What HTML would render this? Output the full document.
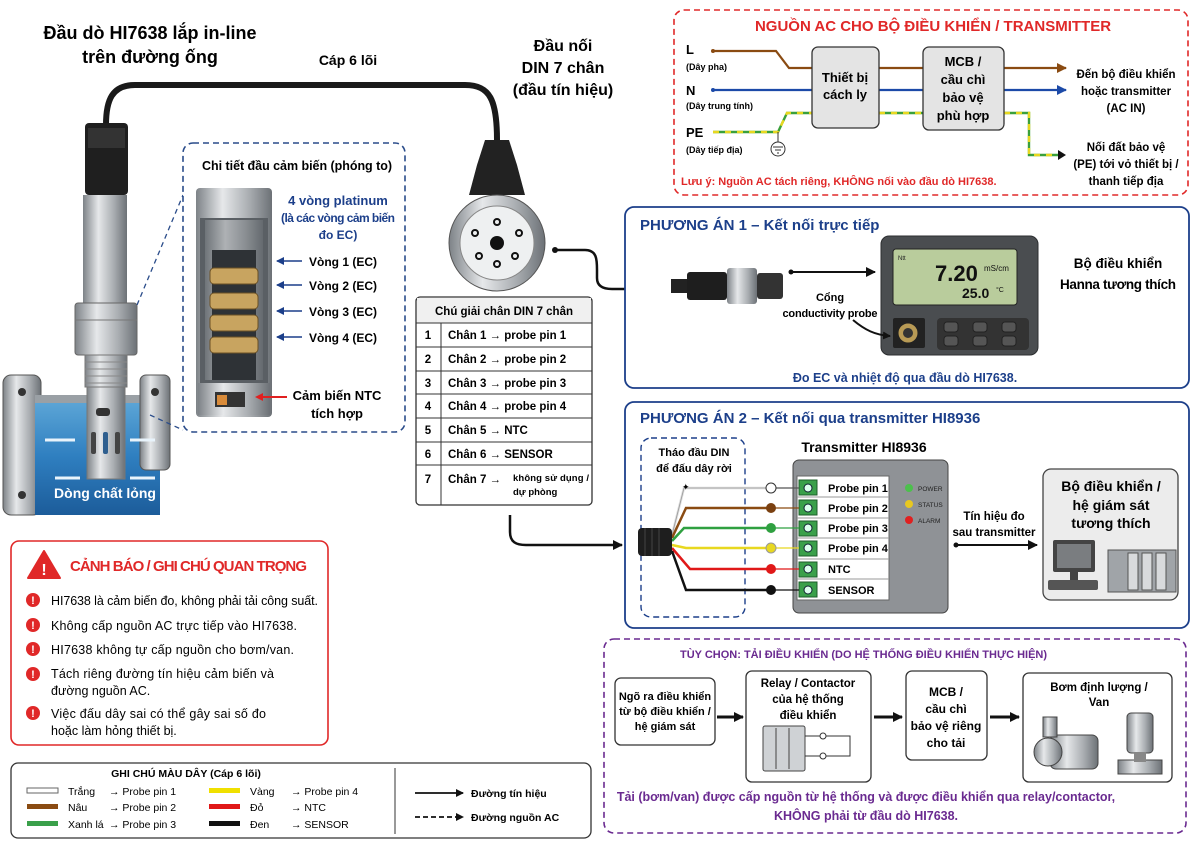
<!DOCTYPE html>
<html><head><meta charset="utf-8"><style>
html,body{margin:0;padding:0;background:#fff}
svg{display:block}
text{font-family:"Liberation Sans","DejaVu Sans",sans-serif}
.b{font-weight:bold}
</style></head><body>
<svg width="1200" height="849" viewBox="0 0 1200 849" xmlns="http://www.w3.org/2000/svg">
<defs>
<marker id="ah" markerWidth="8" markerHeight="8" refX="7" refY="4" orient="auto" markerUnits="userSpaceOnUse"><path d="M0,0 L8,4 L0,8 z" fill="#111"/></marker>
<marker id="ahb" markerWidth="10" markerHeight="10" refX="9" refY="5" orient="auto" markerUnits="userSpaceOnUse"><path d="M0,0 L10,5 L0,10 z" fill="#111"/></marker>
<marker id="abr" markerWidth="10" markerHeight="10" refX="9" refY="5" orient="auto" markerUnits="userSpaceOnUse"><path d="M0,0 L10,5 L0,10 z" fill="#8a4b12"/></marker>
<marker id="abl" markerWidth="10" markerHeight="10" refX="9" refY="5" orient="auto" markerUnits="userSpaceOnUse"><path d="M0,0 L10,5 L0,10 z" fill="#1c4aa8"/></marker>
<marker id="ablu" markerWidth="8" markerHeight="8" refX="1" refY="4" orient="auto" markerUnits="userSpaceOnUse"><path d="M8,0 L0,4 L8,8 z" fill="#1c3f8a"/></marker>
<linearGradient id="steel" x1="0" x2="1"><stop offset="0" stop-color="#7d8287"/><stop offset="0.35" stop-color="#e6e8ea"/><stop offset="0.7" stop-color="#a9adb1"/><stop offset="1" stop-color="#6c7176"/></linearGradient>
<linearGradient id="water" x1="0" x2="0" y1="0" y2="1"><stop offset="0" stop-color="#5fa8d8"/><stop offset="0.5" stop-color="#2f7fc0"/><stop offset="1" stop-color="#1c5c9a"/></linearGradient>
</defs>

<!-- Titles -->
<text x="150" y="39" font-size="18" class="b" text-anchor="middle">Đầu dò HI7638 lắp in-line</text>
<text x="150" y="63" font-size="18" class="b" text-anchor="middle">trên đường ống</text>
<text x="348" y="65" font-size="14" class="b" text-anchor="middle">Cáp 6 lõi</text>
<text x="563" y="51" font-size="16" class="b" text-anchor="middle">Đầu nối</text>
<text x="563" y="73" font-size="16" class="b" text-anchor="middle">DIN 7 chân</text>
<text x="563" y="95" font-size="16" class="b" text-anchor="middle">(đầu tín hiệu)</text>

<!-- Cable -->
<path d="M106,125 C106,100 112,85 135,85 L465,85 C490,85 497,100 497,140" fill="none" stroke="#1a1a1a" stroke-width="6"/>

<!-- Pipe -->
<rect x="3" y="375" width="38" height="140" rx="8" fill="url(#steel)" stroke="#555"/>
<rect x="35" y="398" width="125" height="117" fill="url(#water)"/>
<rect x="35" y="395" width="125" height="8" fill="#9aa0a5"/>
<rect x="140" y="375" width="30" height="95" rx="6" fill="url(#steel)" stroke="#555"/>
<circle cx="155" cy="392" r="4" fill="#333"/><circle cx="22" cy="392" r="4" fill="#333"/><circle cx="22" cy="495" r="4" fill="#333"/>
<path d="M45,440 h30 M55,478 h25 M130,440 h25 M130,478 h25" stroke="#e8f3fb" stroke-width="3"/>
<text x="105" y="498" font-size="14" class="b" fill="#fff" text-anchor="middle">Dòng chất lỏng</text>

<!-- Probe -->
<rect x="85" y="123" width="43" height="72" rx="4" fill="#1f1f1f"/>
<rect x="88" y="128" width="37" height="20" fill="#333"/>
<rect x="83" y="195" width="44" height="108" fill="url(#steel)"/>
<rect x="75" y="303" width="62" height="52" rx="3" fill="url(#steel)" stroke="#666"/>
<line x1="75" y1="320" x2="137" y2="320" stroke="#777"/>
<rect x="85" y="355" width="42" height="32" fill="url(#steel)" stroke="#777"/>
<path d="M85,362h42M85,369h42M85,376h42M85,383h42" stroke="#888"/>
<rect x="87" y="387" width="38" height="92" fill="url(#steel)" stroke="#777"/>
<rect x="96" y="408" width="14" height="8" rx="3" fill="#333"/>
<rect x="91" y="432" width="5" height="22" rx="2" fill="#444"/><rect x="103" y="432" width="5" height="22" rx="2" fill="#2f5f8f"/><rect x="115" y="432" width="5" height="22" rx="2" fill="#444"/>

<!-- Detail box -->
<path d="M137,305 L183,195 M150,415 L183,430" stroke="#2a4c8a" stroke-width="1.3" stroke-dasharray="5,4" fill="none"/>
<rect x="183" y="143" width="222" height="289" rx="10" fill="#fff" stroke="#2a4c8a" stroke-width="1.6" stroke-dasharray="6,4"/>
<text x="202" y="170" font-size="12.5" class="b" textLength="190">Chi tiết đầu cảm biến (phóng to)</text>
<rect x="196" y="188" width="76" height="229" rx="4" fill="url(#steel)"/>
<rect x="200" y="218" width="68" height="165" fill="#5a5f64"/>
<rect x="205" y="220" width="58" height="160" fill="url(#steel)" opacity="0.6"/>
<rect x="212" y="250" width="44" height="130" fill="#2e3236"/>
<g fill="#c8a460" stroke="#6b5125">
<rect x="210" y="268" width="48" height="16" rx="4"/><rect x="210" y="293" width="48" height="16" rx="4"/><rect x="210" y="315" width="48" height="16" rx="4"/><rect x="210" y="337" width="48" height="16" rx="4"/></g>
<rect x="198" y="383" width="72" height="32" fill="url(#steel)"/>
<rect x="215" y="392" width="30" height="15" fill="#333"/><rect x="217" y="395" width="10" height="10" fill="#d98b3a"/>
<text x="338" y="205" font-size="13" class="b" fill="#1c3f8a" text-anchor="middle">4 vòng platinum</text>
<text x="338" y="222" font-size="12" class="b" fill="#1c3f8a" text-anchor="middle" textLength="114">(là các vòng cảm biến</text>
<text x="338" y="239" font-size="12" class="b" fill="#1c3f8a" text-anchor="middle">đo EC)</text>
<g stroke="#1c3f8a" stroke-width="1.5" marker-start="url(#ablu)">
<line x1="277" y1="261" x2="302" y2="261"/><line x1="277" y1="285" x2="302" y2="285"/><line x1="277" y1="311" x2="302" y2="311"/><line x1="277" y1="337" x2="302" y2="337"/></g>
<g font-size="12" class="b"><text x="309" y="266">Vòng 1 (EC)</text><text x="309" y="290">Vòng 2 (EC)</text><text x="309" y="316">Vòng 3 (EC)</text><text x="309" y="342">Vòng 4 (EC)</text></g>
<line x1="258" y1="397" x2="287" y2="397" stroke="#e02020" stroke-width="2"/><path d="M255,397 l8,-4 v8z" fill="#e02020"/>
<text x="337" y="400" font-size="13" class="b" text-anchor="middle">Cảm biến NTC</text>
<text x="337" y="418" font-size="13" class="b" text-anchor="middle">tích hợp</text>

<!-- DIN connector -->
<path d="M485,140 h24 l8,25 l8,30 h-56 l8,-30z" fill="#222"/>
<circle cx="497" cy="243" r="48" fill="url(#steel)" stroke="#555"/>
<circle cx="497" cy="243" r="37" fill="#eef0f1" stroke="#888"/>
<circle cx="497" cy="243" r="7" fill="#111"/>
<g fill="none" stroke="#111" stroke-width="2"><circle cx="497" cy="222" r="3"/><circle cx="475" cy="233" r="3"/><circle cx="519" cy="233" r="3"/><circle cx="479" cy="256" r="3"/><circle cx="515" cy="256" r="3"/><circle cx="497" cy="264" r="3"/></g>
<circle cx="555" cy="250" r="3" fill="#111"/>
<path d="M555,250 L585,250 C597,250 597,260 597,270 L597,278 C597,286 603,289 612,289 L666,289" fill="none" stroke="#111" stroke-width="2.5" marker-end="url(#ahb)"/>

<!-- Pin table -->
<rect x="416" y="297" width="176" height="208" rx="4" fill="#fff" stroke="#333" stroke-width="1.3"/>
<rect x="417" y="298" width="174" height="25" fill="#f0f0f0"/>
<g stroke="#333"><line x1="416" y1="323" x2="592" y2="323"/><line x1="416" y1="347" x2="592" y2="347"/><line x1="416" y1="371" x2="592" y2="371"/><line x1="416" y1="394" x2="592" y2="394"/><line x1="416" y1="418" x2="592" y2="418"/><line x1="416" y1="442" x2="592" y2="442"/><line x1="416" y1="465" x2="592" y2="465"/><line x1="441" y1="323" x2="441" y2="505"/></g>
<text x="504" y="315" font-size="11.5" class="b" text-anchor="middle">Chú giải chân DIN 7 chân</text>
<g font-size="11.5" class="b">
<text x="428" y="339" text-anchor="middle">1</text><text x="448" y="339">Chân 1 → probe pin 1</text>
<text x="428" y="363" text-anchor="middle">2</text><text x="448" y="363">Chân 2 → probe pin 2</text>
<text x="428" y="387" text-anchor="middle">3</text><text x="448" y="387">Chân 3 → probe pin 3</text>
<text x="428" y="410" text-anchor="middle">4</text><text x="448" y="410">Chân 4 → probe pin 4</text>
<text x="428" y="434" text-anchor="middle">5</text><text x="448" y="434">Chân 5 → NTC</text>
<text x="428" y="458" text-anchor="middle">6</text><text x="448" y="458">Chân 6 → SENSOR</text>
<text x="428" y="483" text-anchor="middle">7</text><text x="448" y="483">Chân 7 →</text>
<text x="513" y="481" font-size="9.5" textLength="76">không sử dụng /</text><text x="513" y="495" font-size="9.5">dự phòng</text></g>
<path d="M510,515 L510,532 C510,542 516,545 526,545 L622,545" fill="none" stroke="#111" stroke-width="2.5" marker-end="url(#ahb)"/>

<!-- AC box -->
<rect x="674" y="10" width="514" height="185" rx="10" fill="#fff" stroke="#e02828" stroke-width="1.6" stroke-dasharray="6,4"/>
<text x="933" y="31" font-size="15" class="b" fill="#e02828" text-anchor="middle">NGUỒN AC CHO BỘ ĐIỀU KHIỂN / TRANSMITTER</text>
<text x="686" y="54" font-size="13" class="b">L</text><text x="686" y="70" font-size="9" class="b">(Dây pha)</text>
<text x="686" y="95" font-size="13" class="b">N</text><text x="686" y="109" font-size="9" class="b">(Dây trung tính)</text>
<text x="686" y="137" font-size="13" class="b">PE</text><text x="686" y="153" font-size="9" class="b">(Dây tiếp địa)</text>
<path d="M713,51 L776,51 L789,68 L812,68 M879,68 L923,68" fill="none" stroke="#8a4b12" stroke-width="2.2"/>
<line x1="1004" y1="68" x2="1066" y2="68" stroke="#8a4b12" stroke-width="2.2" marker-end="url(#abr)"/>
<circle cx="713" cy="51" r="2" fill="#8a4b12"/>
<path d="M713,90 L812,90 M879,90 L923,90" stroke="#1c4aa8" stroke-width="2.2"/>
<line x1="1004" y1="90" x2="1066" y2="90" stroke="#1c4aa8" stroke-width="2.2" marker-end="url(#abl)"/>
<circle cx="713" cy="90" r="2" fill="#1c4aa8"/>
<path d="M713,132 L778,132 L787,113 L812,113 M879,113 L923,113 M1004,113 L1029,113 L1029,155 L1060,155" fill="none" stroke="#3aa03a" stroke-width="2.4"/>
<path d="M713,132 L778,132 L787,113 L812,113 M879,113 L923,113 M1004,113 L1029,113 L1029,155 L1060,155" fill="none" stroke="#e8d820" stroke-width="2.4" stroke-dasharray="6,6"/>
<path d="M1058,150 l8,5 l-8,5z" fill="#111"/>
<line x1="778" y1="132" x2="778" y2="142" stroke="#333"/>
<circle cx="778" cy="149" r="7" fill="#fff" stroke="#333"/>
<path d="M773,147h10M775,150h6M777,153h2" stroke="#333"/>
<rect x="812" y="47" width="67" height="81" rx="6" fill="#e4e4e4" stroke="#333" stroke-width="1.3"/>
<text x="845" y="82" font-size="13" class="b" text-anchor="middle">Thiết bị</text><text x="845" y="99" font-size="13" class="b" text-anchor="middle">cách ly</text>
<rect x="923" y="47" width="81" height="83" rx="6" fill="#e4e4e4" stroke="#333" stroke-width="1.3"/>
<g font-size="13" class="b" text-anchor="middle"><text x="963" y="66">MCB /</text><text x="963" y="84">cầu chì</text><text x="963" y="102">bảo vệ</text><text x="963" y="120">phù hợp</text></g>
<g font-size="11.5" class="b" text-anchor="middle"><text x="1126" y="78">Đến bộ điều khiển</text><text x="1126" y="95">hoặc transmitter</text><text x="1126" y="112">(AC IN)</text>
<text x="1126" y="151">Nối đất bảo vệ</text><text x="1126" y="168">(PE) tới vỏ thiết bị /</text><text x="1126" y="185">thanh tiếp địa</text></g>
<text x="681" y="185" font-size="11" class="b" fill="#e02828">Lưu ý: Nguồn AC tách riêng, KHÔNG nối vào đầu dò HI7638.</text>

<!-- Phuong an 1 -->
<rect x="625" y="207" width="564" height="181" rx="9" fill="#fff" stroke="#1c3f8a" stroke-width="1.8"/>
<text x="640" y="230" font-size="15" class="b" fill="#1c3f8a">PHƯƠNG ÁN 1 – Kết nối trực tiếp</text>
<rect x="671" y="279" width="16" height="14" fill="#222"/>
<rect x="687" y="272" width="40" height="28" rx="3" fill="#1e1e1e"/>
<rect x="727" y="268" width="30" height="36" rx="3" fill="url(#steel)"/>
<rect x="757" y="273" width="26" height="26" rx="3" fill="#333"/>
<line x1="791" y1="272" x2="875" y2="272" stroke="#111" stroke-width="2" marker-end="url(#ahb)"/>
<circle cx="791" cy="272" r="2.5" fill="#111"/>
<rect x="881" y="236" width="157" height="119" rx="8" fill="#4a4d50" stroke="#2c2e30"/>
<rect x="893" y="249" width="124" height="56" rx="3" fill="#b9cc9c" stroke="#222"/>
<text x="935" y="281" font-size="22" class="b" fill="#111">7.20</text><text x="984" y="271" font-size="8" fill="#111">mS/cm</text>
<text x="962" y="298" font-size="14" class="b" fill="#111">25.0</text><text x="996" y="292" font-size="7" fill="#111">°C</text>
<text x="898" y="260" font-size="6" fill="#222">Ntt</text>
<rect x="893" y="318" width="32" height="30" rx="2" fill="#222"/>
<circle cx="908" cy="333" r="10" fill="#b89a55" stroke="#222"/><circle cx="908" cy="333" r="5" fill="#333"/>
<rect x="937" y="318" width="92" height="32" rx="4" fill="#333"/>
<g fill="#555" stroke="#222"><rect x="944" y="322" width="14" height="10" rx="3"/><rect x="973" y="322" width="14" height="10" rx="3"/><rect x="1002" y="322" width="14" height="10" rx="3"/><rect x="944" y="336" width="14" height="10" rx="3"/><rect x="973" y="336" width="14" height="10" rx="3"/><rect x="1002" y="336" width="14" height="10" rx="3"/></g>
<path d="M853,320 C865,330 875,335 890,336" fill="none" stroke="#111" stroke-width="2" marker-end="url(#ah)"/>
<text x="830" y="301" font-size="11" class="b" text-anchor="middle">Cổng</text>
<text x="830" y="317" font-size="11" class="b" text-anchor="middle" textLength="95">conductivity probe</text>
<text x="1118" y="268" font-size="13.5" class="b" text-anchor="middle">Bộ điều khiển</text>
<text x="1118" y="289" font-size="13.5" class="b" text-anchor="middle" textLength="116">Hanna tương thích</text>
<text x="905" y="382" font-size="12.5" class="b" fill="#1c3f8a" text-anchor="middle">Đo EC và nhiệt độ qua đầu dò HI7638.</text>

<!-- Phuong an 2 -->
<rect x="625" y="402" width="564" height="226" rx="9" fill="#fff" stroke="#1c3f8a" stroke-width="1.8"/>
<text x="640" y="423" font-size="15" class="b" fill="#1c3f8a">PHƯƠNG ÁN 2 – Kết nối qua transmitter HI8936</text>
<rect x="641" y="438" width="104" height="179" rx="10" fill="none" stroke="#1c3f8a" stroke-width="1.4" stroke-dasharray="6,4"/>
<text x="694" y="456" font-size="11" class="b" text-anchor="middle">Tháo đầu DIN</text>
<text x="694" y="472" font-size="11" class="b" text-anchor="middle">để đấu dây rời</text>
<text x="864" y="452" font-size="14" class="b" text-anchor="middle">Transmitter HI8936</text>
<rect x="793" y="460" width="155" height="153" rx="6" fill="#8f9296" stroke="#444"/>
<rect x="797" y="476" width="92" height="124" fill="#fff" stroke="#666"/>
<g stroke="#999"><line x1="797" y1="497" x2="889" y2="497"/><line x1="797" y1="518" x2="889" y2="518"/><line x1="797" y1="538" x2="889" y2="538"/><line x1="797" y1="559" x2="889" y2="559"/><line x1="797" y1="579" x2="889" y2="579"/></g>
<g fill="#3aa04a" stroke="#1c5c2a"><rect x="799" y="480" width="18" height="15"/><rect x="799" y="500" width="18" height="15"/><rect x="799" y="521" width="18" height="15"/><rect x="799" y="541" width="18" height="15"/><rect x="799" y="562" width="18" height="15"/><rect x="799" y="582" width="18" height="15"/></g>
<g fill="#dfe" stroke="#123"><circle cx="808" cy="488" r="4"/><circle cx="808" cy="508" r="4"/><circle cx="808" cy="528" r="4"/><circle cx="808" cy="548" r="4"/><circle cx="808" cy="569" r="4"/><circle cx="808" cy="590" r="4"/></g>
<g font-size="11" class="b"><text x="828" y="492">Probe pin 1</text><text x="828" y="512">Probe pin 2</text><text x="828" y="532">Probe pin 3</text><text x="828" y="552">Probe pin 4</text><text x="828" y="573">NTC</text><text x="828" y="594">SENSOR</text></g>
<circle cx="909" cy="488" r="4" fill="#4cc04c"/><circle cx="909" cy="504" r="4" fill="#e8c820"/><circle cx="909" cy="520" r="4" fill="#e02020"/>
<g font-size="6.5" fill="#222"><text x="918" y="491">POWER</text><text x="918" y="507">STATUS</text><text x="918" y="523">ALARM</text></g>
<g fill="none" stroke-width="2.5">
<path d="M672,535 L684,488 L771,488" stroke="#ddd"/><path d="M672,535 L684,488 L771,488" stroke="#999" stroke-width="0.8"/>
<path d="M672,538 L686,508 L771,508" stroke="#8a4b12"/>
<path d="M672,541 L684,528 L771,528" stroke="#2fa040"/>
<path d="M672,545 L686,548 L771,548" stroke="#e8d820"/>
<path d="M672,548 L690,569 L771,569" stroke="#e01818"/>
<path d="M672,551 L686,590 L771,590" stroke="#111"/></g>
<g stroke-width="1.2"><line x1="771" y1="488" x2="799" y2="488" stroke="#555"/><line x1="771" y1="508" x2="799" y2="508" stroke="#8a4b12"/><line x1="771" y1="528" x2="799" y2="528" stroke="#2fa040"/><line x1="771" y1="548" x2="799" y2="548" stroke="#e8d820"/><line x1="771" y1="569" x2="799" y2="569" stroke="#e01818"/><line x1="771" y1="590" x2="799" y2="590" stroke="#111"/></g>
<circle cx="771" cy="488" r="5" fill="#fff" stroke="#333"/><circle cx="771" cy="508" r="5" fill="#7a4010"/><circle cx="771" cy="528" r="5" fill="#2fa040"/><circle cx="771" cy="548" r="5" fill="#e8d820" stroke="#999"/><circle cx="771" cy="569" r="5" fill="#e01818"/><circle cx="771" cy="590" r="5" fill="#111"/>
<rect x="638" y="528" width="34" height="28" rx="4" fill="#1e1e1e"/>
<path d="M645,528v28M652,528v28M659,528v28" stroke="#444"/>
<text x="682" y="490" font-size="9">✦</text>
<line x1="956" y1="545" x2="1037" y2="545" stroke="#111" stroke-width="2" marker-end="url(#ahb)"/><circle cx="956" cy="545" r="2.5" fill="#111"/>
<text x="994" y="520" font-size="11.5" class="b" text-anchor="middle">Tín hiệu đo</text>
<text x="994" y="536" font-size="11.5" class="b" text-anchor="middle">sau transmitter</text>
<rect x="1043" y="469" width="135" height="131" rx="8" fill="#ececec" stroke="#444" stroke-width="1.3"/>
<g font-size="14" class="b" text-anchor="middle"><text x="1111" y="491">Bộ điều khiển /</text><text x="1111" y="510">hệ giám sát</text><text x="1111" y="528">tương thích</text></g>
<rect x="1053" y="540" width="42" height="32" rx="2" fill="#444"/><rect x="1057" y="544" width="34" height="24" fill="#7a7d80"/>
<rect x="1070" y="572" width="8" height="8" fill="#444"/><rect x="1048" y="580" width="50" height="10" rx="2" fill="#555"/>
<rect x="1108" y="550" width="68" height="42" fill="#a0a4a8" stroke="#555"/>
<g fill="#d8dadc" stroke="#555"><rect x="1128" y="553" width="10" height="37"/><rect x="1142" y="553" width="10" height="37"/><rect x="1156" y="553" width="10" height="37"/></g>

<!-- Warning box -->
<rect x="11" y="541" width="317" height="204" rx="8" fill="#fff" stroke="#e02828" stroke-width="1.6"/>
<path d="M44,551 L60,578 L28,578z" fill="#e02828" stroke="#e02828" stroke-linejoin="round" stroke-width="2"/>
<text x="44" y="575" font-size="16" class="b" fill="#fff" text-anchor="middle">!</text>
<text x="70" y="571" font-size="15" class="b" fill="#e02828" textLength="237">CẢNH BÁO / GHI CHÚ QUAN TRỌNG</text>
<g fill="#e02828"><circle cx="33" cy="600" r="7"/><circle cx="33" cy="625" r="7"/><circle cx="33" cy="649" r="7"/><circle cx="33" cy="674" r="7"/><circle cx="33" cy="713" r="7"/></g>
<g fill="#fff" font-size="11" class="b" text-anchor="middle"><text x="33" y="604">!</text><text x="33" y="629">!</text><text x="33" y="653">!</text><text x="33" y="678">!</text><text x="33" y="717">!</text></g>
<g font-size="12.5"><text x="51" y="605" textLength="267">HI7638 là cảm biến đo, không phải tải công suất.</text>
<text x="51" y="630" textLength="246">Không cấp nguồn AC trực tiếp vào HI7638.</text>
<text x="51" y="654" textLength="243">HI7638 không tự cấp nguồn cho bơm/van.</text>
<text x="51" y="678" textLength="223">Tách riêng đường tín hiệu cảm biến và</text><text x="51" y="695">đường nguồn AC.</text>
<text x="51" y="718" textLength="215">Việc đấu dây sai có thể gây sai số đo</text><text x="51" y="735">hoặc làm hỏng thiết bị.</text></g>

<!-- Legend -->
<rect x="11" y="763" width="580" height="75" rx="7" fill="#fff" stroke="#333" stroke-width="1.3"/>
<text x="186" y="777" font-size="10.5" class="b" text-anchor="middle">GHI CHÚ MÀU DÂY (Cáp 6 lõi)</text>
<rect x="27" y="788" width="31" height="5" fill="#fff" stroke="#666"/>
<rect x="27" y="804" width="31" height="5" fill="#8a4b12"/>
<rect x="27" y="821" width="31" height="5" fill="#3aa04a"/>
<rect x="209" y="788" width="31" height="5" fill="#f0e000"/>
<rect x="209" y="804" width="31" height="5" fill="#e01818"/>
<rect x="209" y="821" width="31" height="5" fill="#111"/>
<g font-size="10.5"><text x="68" y="795">Trắng</text><text x="109" y="795">→ Probe pin 1</text>
<text x="68" y="811">Nâu</text><text x="109" y="811">→ Probe pin 2</text>
<text x="68" y="828">Xanh lá</text><text x="109" y="828">→ Probe pin 3</text>
<text x="250" y="795">Vàng</text><text x="291" y="795">→ Probe pin 4</text>
<text x="250" y="811">Đỏ</text><text x="291" y="811">→ NTC</text>
<text x="250" y="828">Đen</text><text x="291" y="828">→ SENSOR</text></g>
<line x1="395" y1="768" x2="395" y2="834" stroke="#333"/>
<line x1="415" y1="793" x2="463" y2="793" stroke="#111" stroke-width="1.8" marker-end="url(#ah)"/>
<line x1="415" y1="817" x2="463" y2="817" stroke="#111" stroke-width="1.8" stroke-dasharray="5,3" marker-end="url(#ah)"/>
<text x="471" y="797" font-size="10.5" class="b">Đường tín hiệu</text>
<text x="471" y="821" font-size="10.5" class="b">Đường nguồn AC</text>

<!-- Optional box -->
<rect x="604" y="639" width="582" height="194" rx="10" fill="#fff" stroke="#6a2a90" stroke-width="1.6" stroke-dasharray="6,4"/>
<text x="680" y="658" font-size="11" class="b" fill="#6a2a90">TÙY CHỌN: TẢI ĐIỀU KHIỂN (DO HỆ THỐNG ĐIỀU KHIỂN THỰC HIỆN)</text>
<rect x="615" y="678" width="100" height="67" rx="6" fill="#fff" stroke="#333" stroke-width="1.3"/>
<g font-size="11" class="b" text-anchor="middle"><text x="665" y="700">Ngõ ra điều khiển</text><text x="665" y="715">từ bộ điều khiển /</text><text x="665" y="730">hệ giám sát</text></g>
<line x1="717" y1="717" x2="743" y2="717" stroke="#111" stroke-width="3" marker-end="url(#ahb)"/>
<rect x="746" y="671" width="125" height="111" rx="6" fill="#fff" stroke="#333" stroke-width="1.3"/>
<g font-size="11.5" class="b" text-anchor="middle"><text x="808" y="687">Relay / Contactor</text><text x="808" y="703">của hệ thống</text><text x="808" y="719">điều khiển</text></g>
<rect x="763" y="726" width="42" height="45" rx="2" fill="#cfd2d5" stroke="#444"/>
<path d="M776,728v41M789,728v41" stroke="#444"/>
<path d="M805,736 h15 M826,736 h24 v20 h-24 M820,756 h-15" fill="none" stroke="#333"/>
<circle cx="823" cy="736" r="3" fill="#fff" stroke="#333"/><circle cx="823" cy="756" r="3" fill="#fff" stroke="#333"/>
<line x1="874" y1="717" x2="902" y2="717" stroke="#111" stroke-width="3" marker-end="url(#ahb)"/>
<rect x="906" y="671" width="81" height="89" rx="6" fill="#fff" stroke="#333" stroke-width="1.3"/>
<g font-size="12" class="b" text-anchor="middle"><text x="946" y="696">MCB /</text><text x="946" y="713">cầu chì</text><text x="946" y="730">bảo vệ riêng</text><text x="946" y="747">cho tải</text></g>
<line x1="990" y1="717" x2="1019" y2="717" stroke="#111" stroke-width="3" marker-end="url(#ahb)"/>
<rect x="1023" y="673" width="149" height="109" rx="6" fill="#fff" stroke="#333" stroke-width="1.3"/>
<text x="1099" y="691" font-size="11.5" class="b" text-anchor="middle">Bơm định lượng /</text>
<text x="1099" y="706" font-size="11.5" class="b" text-anchor="middle">Van</text>
<rect x="1050" y="735" width="48" height="34" rx="6" fill="url(#steel)" stroke="#444"/>
<circle cx="1048" cy="752" r="14" fill="url(#steel)" stroke="#444"/>
<rect x="1043" y="717" width="14" height="20" fill="url(#steel)" stroke="#444"/>
<rect x="1127" y="713" width="26" height="40" rx="4" fill="url(#steel)" stroke="#444"/>
<path d="M1118,760 h44 v14 h-44z" fill="url(#steel)" stroke="#444"/>
<rect x="1134" y="752" width="12" height="10" fill="#888"/>

<text x="866" y="801" font-size="12.5" class="b" fill="#6a2a90" text-anchor="middle">Tải (bơm/van) được cấp nguồn từ hệ thống và được điều khiển qua relay/contactor,</text>
<text x="866" y="820" font-size="12.5" class="b" fill="#6a2a90" text-anchor="middle">KHÔNG phải từ đầu dò HI7638.</text>
</svg>
</body></html>
